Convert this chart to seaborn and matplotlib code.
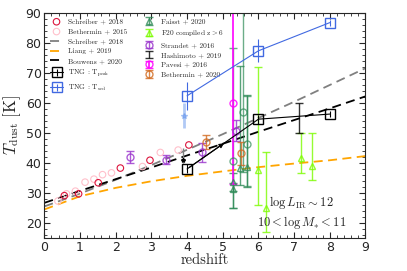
import numpy as np
import matplotlib
matplotlib.use("Agg")
import matplotlib.pyplot as plt
import pandas as pd
import seaborn as sns

# observed points
schreiber_z = [0.56, 0.96, 1.51, 2.13, 2.96, 4.05]
schreiber_T = [29.1, 29.7, 33.4, 38.3, 40.9, 46.0]
bethermin15_z = [0.38, 0.62, 0.87, 1.14, 1.39, 1.63, 1.88, 2.75, 3.25, 3.75]
bethermin15_T = [27.3, 29.7, 30.6, 33.6, 34.6, 36.1, 36.7, 38.8, 43.5, 44.3]

# model lines
line_z = [0, 1, 2, 3, 4, 5, 6, 7, 8, 9]
schreiber_line = [25.5, 29.8, 34.4, 39.3, 44.4, 49.6, 55.0, 60.4, 66.0, 71.6]
liang_line = [24.5, 28.9, 31.7, 33.9, 35.7, 37.2, 38.6, 39.8, 40.9, 42.3]
bouwens_line = [26.7, 30.7, 34.6, 38.5, 42.5, 46.4, 50.4, 54.3, 58.2, 62.2]

# TNG
tpeak_z = [4, 6, 8]
tpeak_T = [38.0, 54.6, 56.3]
tpeak_err = [1.5, 1.5, 1.0]
tsed_z = [4, 6, 8]
tsed_T = [62.4, 77.4, 86.8]
tsed_err = [4.7, 3.9, 1.0]

# literature with errors
faisst_z = [5.28, 5.28, 5.48, 5.67]
faisst_T = [33.8, 31.2, 38.2, 38.5]
faisst_lo = [3.0, 6.3, 5.5, 6.4]
faisst_hi = [3.0, 2.0, 34.0, 24.0]
faisst_c_z = [5.28, 5.56, 5.67]
faisst_c_T = [40.8, 57.1, 46.2]
faisst_c_lo = [15.8, 20.0, 14.0]
faisst_c_hi = [37.4, 40.0, 16.0]
f20_z = [6.0, 6.2, 7.18, 7.51]
f20_T = [37.7, 24.9, 41.6, 39.0]
f20_lo = [11.7, 7.8, 5.0, 4.7]
f20_hi = [34.4, 18.9, 8.3, 11.1]
strandet_z = [2.4, 3.4, 4.42, 5.38]
strandet_T = [42.1, 41.0, 43.6, 50.8]
strandet_err = [2.0, 1.5, 3.2, 3.6]
hashimoto_z = [7.15]
hashimoto_T = [55.0]
hashimoto_err = [5.0]
pavesi_z = [5.29]
pavesi_T = [60.0]
pavesi_lo = [27.0]
pavesi_hi = [40.0]
bethermin20_z = [4.53, 5.5]
bethermin20_T = [47.1, 43.2]
bethermin20_err = [2.3, 3.9]
stack_z = [3.89]
stack_T = [41.0]
stack_lo = [1.1]
stack_hi = [3.9]
sedstack_z = [3.9]
sedstack_T = [55.8]
sedstack_err = [4.2]

sns.set_style("ticks")
plt.rcParams["mathtext.fontset"] = "cm"

fig, ax = plt.subplots(figsize=(4.07, 2.71), dpi=100)
fig.subplots_adjust(left=0.109, right=0.898, bottom=0.122, top=0.952)

sns.scatterplot(x=schreiber_z, y=schreiber_T, ax=ax, marker="o", s=22,
                facecolor="none", edgecolor="crimson", linewidth=0.8,
                label="Schreiber + 2018", zorder=4)
sns.scatterplot(x=bethermin15_z, y=bethermin15_T, ax=ax, marker="o", s=22,
                facecolor="none", edgecolor="pink", linewidth=0.8,
                label="Bethermin + 2015", zorder=3)

lines = pd.DataFrame({"z": line_z, "s18": schreiber_line, "l19": liang_line, "b20": bouwens_line})
sns.lineplot(data=lines, x="z", y="s18", ax=ax, color="gray", ls=(0, (5, 3)), lw=1.3,
             label="Schreiber + 2018")
sns.lineplot(data=lines, x="z", y="l19", ax=ax, color="orange", ls=(0, (5, 3)), lw=1.3,
             label="Liang + 2019")
sns.lineplot(data=lines, x="z", y="b20", ax=ax, color="black", ls=(0, (5, 3)), lw=1.3,
             label="Bouwens + 2020")

ax.errorbar(tpeak_z, tpeak_T, yerr=tpeak_err, color="black", marker="s", ms=6.5,
            mfc="none", lw=0.8, capsize=0, label=r"TNG : T$_{\rm peak}$", zorder=6)
ax.errorbar(tsed_z, tsed_T, yerr=tsed_err, color="royalblue", marker="s", ms=6.5,
            mfc="none", lw=0.8, capsize=0, label=r"TNG : T$_{\rm sed}$", zorder=6)
frac = 0.55
ax.annotate("", xy=(tpeak_z[0] + frac * (tpeak_z[1] - tpeak_z[0]),
                    tpeak_T[0] + frac * (tpeak_T[1] - tpeak_T[0])),
            xytext=(tpeak_z[0], tpeak_T[0]),
            arrowprops=dict(arrowstyle="-|>", color="black", lw=0.8, mutation_scale=7))

ax.errorbar(faisst_z, faisst_T, yerr=[faisst_lo, faisst_hi], color="seagreen", alpha=0.8,
            marker="^", ms=5, mfc="none", ls="none", lw=1, capsize=3,
            label="Faisst + 2020")
ax.errorbar(faisst_c_z, faisst_c_T, yerr=[faisst_c_lo, faisst_c_hi], color="seagreen", alpha=0.7,
            marker="o", ms=5, mfc="none", ls="none", lw=1, capsize=3)
ax.errorbar(f20_z, f20_T, yerr=[f20_lo, f20_hi], color="lawngreen", alpha=0.8,
            marker="^", ms=5, mfc="none", ls="none", lw=1, capsize=3,
            label=r"F20 compiled $\rm z>6$")
ax.errorbar(strandet_z, strandet_T, yerr=strandet_err, color="darkorchid", alpha=0.8,
            marker="o", ms=5, mfc="none", ls="none", lw=1, capsize=3,
            label="Strandet + 2016")
ax.errorbar(hashimoto_z, hashimoto_T, yerr=hashimoto_err, color="black", alpha=0.8,
            ls="none", lw=1, capsize=3, label="Hashimoto + 2019")
ax.errorbar(pavesi_z, pavesi_T, yerr=[pavesi_lo, pavesi_hi], color="magenta", alpha=0.85,
            marker="o", ms=5, mfc="none", ls="none", lw=1.4, capsize=3,
            label="Pavesi + 2016")
ax.errorbar(bethermin20_z, bethermin20_T, yerr=bethermin20_err, color="chocolate", alpha=0.8,
            marker="o", ms=5, mfc="none", ls="none", lw=1, capsize=3,
            label="Bethermin + 2020")
ax.errorbar(stack_z, stack_T, yerr=[stack_lo, stack_hi], color="gray", ecolor="gray",
            marker="*", ms=3, mfc="black", mec="black", ls="none", lw=1)
ax.errorbar(sedstack_z, sedstack_T, yerr=sedstack_err, color="cornflowerblue", alpha=0.5,
            marker="*", ms=4, ls="none", lw=2)

ax.text(7.2, 26.7, r"$\log L_{\rm IR}\sim12$", ha="center", va="center", fontsize=9)
ax.text(7.2, 20.3, r"$10<\log M_{*}<11$", ha="center", va="center", fontsize=9)

ax.set_xlim(0, 9)
ax.set_ylim(15, 90)
ax.set_xticks(np.arange(0, 10, 1))
ax.set_yticks(np.arange(20, 100, 10))
ax.xaxis.set_minor_locator(matplotlib.ticker.MultipleLocator(0.2))
ax.yaxis.set_minor_locator(matplotlib.ticker.MultipleLocator(2))
ax.tick_params(which="both", direction="in", top=True, right=True, labelsize=9)
ax.tick_params(which="major", length=4, pad=2)
ax.tick_params(which="minor", length=2)
ax.set_xlabel("redshift", fontsize=10.5, family="cmr10", labelpad=0)
ax.set_ylabel(r"$T_{\rm dust}\ [\rm K]$", fontsize=12, labelpad=2)

ax.legend(loc="upper left", ncol=2, prop={"family": "cmr10", "size": 5.3}, frameon=False,
          handlelength=1.8, handletextpad=0.7, columnspacing=2.0, labelspacing=0.5,
          borderaxespad=0.35)

fig.savefig("out.png", dpi=100)
